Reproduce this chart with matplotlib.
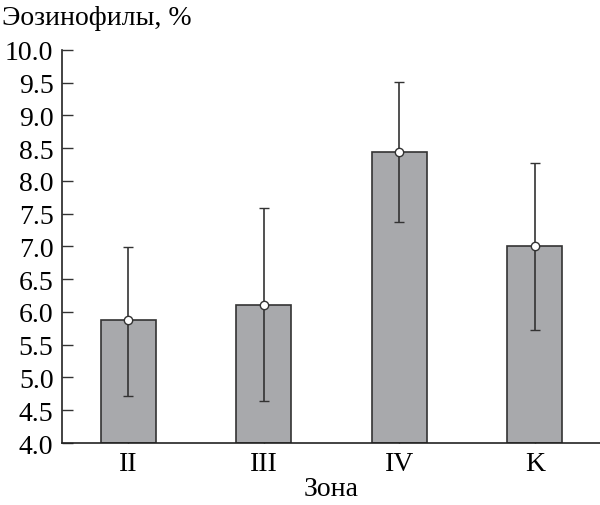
import matplotlib
matplotlib.use('Agg')
import matplotlib.pyplot as plt

# данные
zones = ['II', 'III', 'IV', 'K']
means = [5.87, 6.10, 8.44, 7.00]
err_low = [4.72, 4.64, 7.37, 5.72]
err_high = [6.99, 7.58, 9.51, 8.28]

plt.rcParams['font.family'] = ['Liberation Serif', 'DejaVu Serif']
plt.rcParams['font.size'] = 20

fig = plt.figure(figsize=(6.0, 5.06), dpi=100)
ax = fig.add_axes([0.103, 0.1225, 0.897, 0.777])

x = list(range(len(zones)))
ax.bar(x, [m - 4.0 for m in means], bottom=4.0, width=0.405,
       color='#a8a9ac', edgecolor='#333333', linewidth=1.2, zorder=2)

yerr = [[m - lo for m, lo in zip(means, err_low)],
        [hi - m for m, hi in zip(means, err_high)]]
ax.errorbar(x, means, yerr=yerr, fmt='o', color='#333333', ecolor='#333333',
            elinewidth=1.2, capsize=3.3, capthick=1.2,
            markerfacecolor='white', markeredgecolor='#333333',
            markersize=6, markeredgewidth=1.0, zorder=3)

ax.set_xlim(-0.49, 3.48)
ax.set_ylim(4.0, 10.0)
ax.set_yticks([4.0 + 0.5 * i for i in range(13)])
ax.set_yticklabels([f'{4.0 + 0.5 * i:.1f}' for i in range(13)])
ax.set_xticks(x)
ax.set_xticklabels(zones)

for s in ['top', 'right']:
    ax.spines[s].set_visible(False)
for s in ['left', 'bottom']:
    ax.spines[s].set_linewidth(1.2)
    ax.spines[s].set_color('#222222')

ax.tick_params(axis='both', direction='in', length=8, width=1.0, color='#333333',
               labelsize=20, pad=6)

ax.set_xlabel('Зона', fontsize=20, labelpad=0)
fig.text(0.003, 0.963, 'Эозинофилы, %', fontsize=20, ha='left', va='center')

fig.savefig('out.png', dpi=100)
